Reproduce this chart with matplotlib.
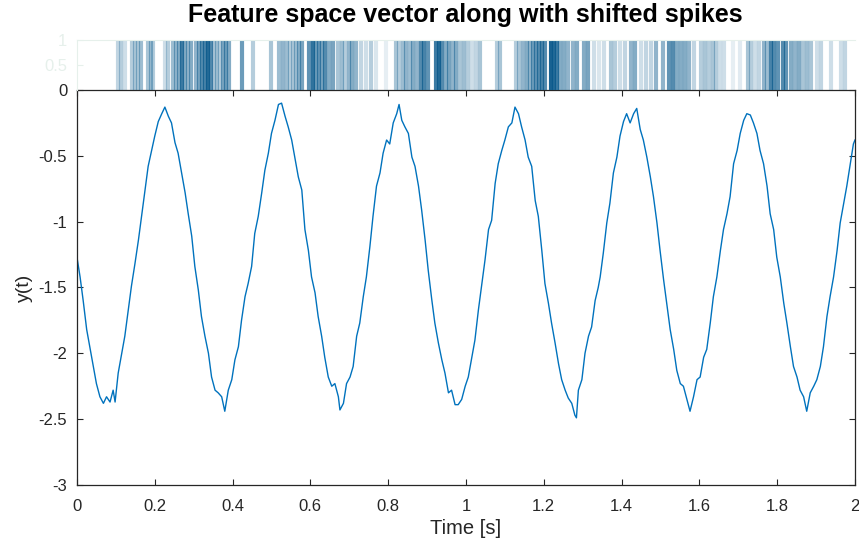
import numpy as np
import matplotlib
matplotlib.use("Agg")
import matplotlib.pyplot as plt

plt.rcParams['font.family'] = ['Liberation Sans', 'DejaVu Sans']

# =========================================
# SIGNAL
# =========================================
t_sig = [
    0.000, 0.008, 0.016, 0.025, 0.033, 0.042, 0.050, 0.059, 0.068, 0.076,
    0.085, 0.093, 0.098, 0.106, 0.115, 0.123, 0.132, 0.140, 0.149, 0.158,
    0.166, 0.175, 0.183, 0.192, 0.200, 0.209, 0.218, 0.226, 0.235, 0.243,
    0.252, 0.260, 0.269, 0.278, 0.286, 0.295, 0.303, 0.312, 0.320, 0.329,
    0.338, 0.346, 0.355, 0.363, 0.372, 0.380, 0.389, 0.398, 0.406, 0.415,
    0.423, 0.432, 0.440, 0.449, 0.457, 0.466, 0.475, 0.483, 0.492, 0.500,
    0.509, 0.518, 0.526, 0.535, 0.543, 0.552, 0.560, 0.569, 0.578, 0.586,
    0.595, 0.603, 0.612, 0.620, 0.629, 0.637, 0.646, 0.655, 0.663, 0.672,
    0.676, 0.685, 0.693, 0.702, 0.710, 0.719, 0.727, 0.736, 0.744, 0.753,
    0.761, 0.770, 0.779, 0.787, 0.796, 0.804, 0.813, 0.822, 0.828, 0.835,
    0.843, 0.852, 0.861, 0.869, 0.878, 0.886, 0.895, 0.903, 0.912, 0.920,
    0.929, 0.938, 0.946, 0.955, 0.963, 0.972, 0.980, 0.989, 0.998, 1.006,
    1.015, 1.023, 1.032, 1.040, 1.049, 1.058, 1.066, 1.075, 1.083, 1.092,
    1.100, 1.109, 1.118, 1.126, 1.135, 1.143, 1.152, 1.160, 1.169, 1.178,
    1.186, 1.195, 1.203, 1.212, 1.220, 1.229, 1.238, 1.246, 1.255, 1.263,
    1.272, 1.280, 1.284, 1.289, 1.298, 1.306, 1.315, 1.323, 1.332, 1.340,
    1.345, 1.353, 1.362, 1.370, 1.379, 1.388, 1.396, 1.405, 1.413, 1.422,
    1.431, 1.439, 1.448, 1.456, 1.465, 1.474, 1.482, 1.491, 1.499, 1.508,
    1.516, 1.525, 1.534, 1.542, 1.551, 1.559, 1.568, 1.576, 1.585, 1.594,
    1.602, 1.611, 1.619, 1.628, 1.636, 1.645, 1.654, 1.662, 1.671, 1.679,
    1.688, 1.697, 1.705, 1.714, 1.722, 1.731, 1.739, 1.748, 1.756, 1.765,
    1.774, 1.782, 1.791, 1.799, 1.808, 1.817, 1.825, 1.834, 1.842, 1.851,
    1.859, 1.868, 1.876, 1.885, 1.894, 1.902, 1.911, 1.919, 1.928, 1.936,
    1.945, 1.954, 1.962, 1.971, 1.979, 1.988, 1.996, 2.000,
]

y_sig = [
    -1.27, -1.42, -1.60, -1.82, -1.95, -2.10, -2.23, -2.33, -2.38, -2.33,
    -2.37, -2.28, -2.37, -2.15, -2.00, -1.87, -1.67, -1.49, -1.32, -1.14,
    -0.96, -0.76, -0.58, -0.46, -0.35, -0.24, -0.18, -0.13, -0.20, -0.25,
    -0.40, -0.48, -0.63, -0.78, -0.94, -1.11, -1.34, -1.52, -1.72, -1.87,
    -2.00, -2.18, -2.28, -2.30, -2.33, -2.44, -2.28, -2.20, -2.05, -1.95,
    -1.75, -1.57, -1.47, -1.34, -1.09, -0.96, -0.78, -0.61, -0.48, -0.33,
    -0.23, -0.11, -0.10, -0.20, -0.28, -0.38, -0.51, -0.66, -0.76, -1.06,
    -1.22, -1.42, -1.54, -1.72, -1.87, -2.03, -2.18, -2.25, -2.23, -2.33,
    -2.43, -2.38, -2.23, -2.18, -2.10, -1.87, -1.77, -1.57, -1.42, -1.19,
    -0.96, -0.73, -0.63, -0.48, -0.38, -0.41, -0.25, -0.18, -0.11, -0.23,
    -0.28, -0.33, -0.51, -0.58, -0.73, -0.91, -1.14, -1.37, -1.59, -1.77,
    -1.92, -2.05, -2.15, -2.30, -2.28, -2.39, -2.39, -2.35, -2.25, -2.18,
    -2.03, -1.90, -1.67, -1.49, -1.29, -1.06, -0.99, -0.71, -0.56, -0.46,
    -0.38, -0.28, -0.25, -0.13, -0.18, -0.28, -0.38, -0.51, -0.58, -0.84,
    -0.96, -1.22, -1.47, -1.62, -1.77, -1.92, -2.08, -2.20, -2.28, -2.34,
    -2.38, -2.47, -2.49, -2.28, -2.20, -2.00, -1.87, -1.80, -1.60, -1.50,
    -1.42, -1.24, -1.01, -0.86, -0.63, -0.51, -0.35, -0.24, -0.18, -0.25,
    -0.18, -0.14, -0.30, -0.38, -0.51, -0.66, -0.81, -1.01, -1.22, -1.44,
    -1.62, -1.82, -1.97, -2.13, -2.23, -2.25, -2.35, -2.44, -2.33, -2.20,
    -2.18, -2.03, -1.97, -1.77, -1.57, -1.42, -1.22, -1.06, -0.94, -0.81,
    -0.56, -0.46, -0.33, -0.23, -0.18, -0.19, -0.25, -0.33, -0.46, -0.56,
    -0.73, -0.94, -1.06, -1.27, -1.42, -1.62, -1.77, -1.95, -2.10, -2.18,
    -2.28, -2.33, -2.44, -2.30, -2.25, -2.20, -2.10, -1.95, -1.72, -1.57,
    -1.42, -1.22, -1.01, -0.86, -0.73, -0.56, -0.41, -0.38,
]

# =========================================
# SPIKES (time, opacity)
# =========================================
spike_t = [
    0.105, 0.113, 0.123, 0.141, 0.149, 0.157, 0.165, 0.183, 0.190, 0.195,
    0.226, 0.234, 0.247, 0.255, 0.262, 0.270, 0.278, 0.285, 0.293, 0.306,
    0.314, 0.321, 0.329, 0.337, 0.345, 0.352, 0.360, 0.368, 0.375, 0.383,
    0.391, 0.424, 0.452, 0.499, 0.519, 0.530, 0.540, 0.548, 0.555, 0.563,
    0.571, 0.578, 0.596, 0.607, 0.614, 0.622, 0.630, 0.638, 0.648, 0.658,
    0.671, 0.681, 0.689, 0.699, 0.707, 0.717, 0.730, 0.743, 0.756, 0.769,
    0.794, 0.820, 0.828, 0.838, 0.846, 0.856, 0.864, 0.874, 0.884, 0.892,
    0.902, 0.923, 0.931, 0.938, 0.949, 0.956, 0.967, 0.974, 0.985, 0.995,
    1.005, 1.015, 1.026, 1.036, 1.080, 1.087, 1.129, 1.136, 1.147, 1.157,
    1.165, 1.172, 1.180, 1.188, 1.195, 1.203, 1.219, 1.226, 1.234, 1.242,
    1.252, 1.262, 1.275, 1.285, 1.303, 1.314, 1.329, 1.342, 1.355, 1.373,
    1.383, 1.396, 1.409, 1.424, 1.434, 1.450, 1.463, 1.476, 1.488, 1.506,
    1.522, 1.532, 1.542, 1.553, 1.563, 1.573, 1.586, 1.604, 1.614, 1.625,
    1.635, 1.643, 1.653, 1.663, 1.686, 1.704, 1.725, 1.733, 1.743, 1.753,
    1.766, 1.774, 1.784, 1.792, 1.802, 1.815, 1.823, 1.836, 1.846, 1.856,
    1.866, 1.877, 1.887, 1.902, 1.913, 1.938, 1.964, 1.974,
]

spike_a = [
    0.25, 0.30, 0.20, 0.30, 0.35, 0.35, 0.40, 0.35, 0.40, 0.30,
    0.20, 0.30, 0.40, 0.45, 0.50, 0.80, 0.50, 0.45, 0.50, 0.45,
    0.55, 0.70, 0.75, 0.90, 0.70, 0.35, 0.40, 0.30, 0.55, 0.60,
    0.50, 0.60, 0.30, 0.35, 0.40, 0.45, 0.40, 0.30, 0.35, 0.40,
    0.50, 0.55, 0.65, 0.85, 0.60, 0.65, 0.55, 0.70, 0.50, 0.55,
    0.35, 0.40, 0.30, 0.45, 0.50, 0.45, 0.25, 0.20, 0.30, 0.15,
    0.10, 0.35, 0.30, 0.40, 0.45, 0.40, 0.50, 0.45, 0.70, 0.75,
    0.65, 0.80, 0.90, 0.70, 0.50, 0.55, 0.45, 0.50, 0.35, 0.40,
    0.30, 0.20, 0.25, 0.35, 0.30, 0.35, 0.30, 0.35, 0.45, 0.50,
    0.45, 0.60, 0.65, 0.70, 0.75, 0.70, 0.95, 0.90, 0.80, 0.50,
    0.50, 0.45, 0.45, 0.50, 0.50, 0.55, 0.20, 0.15, 0.20, 0.35,
    0.30, 0.20, 0.25, 0.45, 0.50, 0.20, 0.25, 0.25, 0.45, 0.45,
    0.65, 0.70, 0.50, 0.50, 0.50, 0.45, 0.25, 0.30, 0.35, 0.30,
    0.35, 0.30, 0.20, 0.20, 0.10, 0.12, 0.35, 0.30, 0.20, 0.25,
    0.45, 0.40, 0.75, 0.70, 0.65, 0.70, 0.65, 0.50, 0.45, 0.50,
    0.35, 0.40, 0.35, 0.20, 0.25, 0.20, 0.20, 0.25,
]

TICK_X = [0, 0.2, 0.4, 0.6, 0.8, 1, 1.2, 1.4, 1.6, 1.8, 2]
TICK_Y = [-3, -2.5, -2, -1.5, -1, -0.5, 0]

LINE_COLOR = "#0072BD"
SPIKE_COLOR = "#0b5a8c"
TXT = "#262626"
FAINT = "#e6f0eb"

fig = plt.figure(figsize=(8.59, 5.48), dpi=100)

# =========================================
# MAIN AXES
# =========================================
ax = fig.add_axes([0.0896, 0.115, 0.9057, 0.7208])
ax.plot(t_sig, y_sig, color=LINE_COLOR, lw=1.0)
ax.set_xlim(0, 2)
ax.set_ylim(-3, 0)
ax.set_xticks(TICK_X)
ax.set_xticklabels(["0", "0.2", "0.4", "0.6", "0.8", "1", "1.2", "1.4", "1.6", "1.8", "2"])
ax.set_yticks(TICK_Y)
ax.set_yticklabels(["-3", "-2.5", "-2", "-1.5", "-1", "-0.5", "0"])
ax.tick_params(direction="in", length=4, width=0.8, colors=TXT, labelsize=12,
               top=True, right=True)
ax.tick_params(axis="x", pad=10)
ax.tick_params(axis="y", pad=7)
for s in ax.spines.values():
    s.set_color(TXT)
    s.set_linewidth(0.9)
ax.set_xlabel("Time [s]", fontsize=14.5, color=TXT, labelpad=4)
ax.set_ylabel("y(t)", fontsize=14, color=TXT, labelpad=4)

# =========================================
# SPIKE AXES
# =========================================
sx = fig.add_axes([0.0896, 0.8358, 0.9057, 0.0912])
for t, a in zip(spike_t, spike_a):
    sx.axvline(t, ymin=0, ymax=1, color=SPIKE_COLOR, alpha=a, lw=3.0)
sx.set_xlim(0, 2)
sx.set_ylim(0, 1)
sx.set_xticks([])
sx.set_yticks([0.5, 1])
sx.set_yticklabels(["0.5", "1"])
sx.tick_params(direction="in", length=4, colors=FAINT, labelsize=12, pad=7)
for k in ["bottom", "right"]:
    sx.spines[k].set_visible(False)
for k in ["left", "top"]:
    sx.spines[k].set_color(FAINT)
sx.patch.set_alpha(0)

fig.text(0.542, 0.972, "Feature space vector along with shifted spikes",
         ha="center", va="center", fontsize=18, fontweight="bold", color="black")

fig.savefig("out.png", dpi=100)
